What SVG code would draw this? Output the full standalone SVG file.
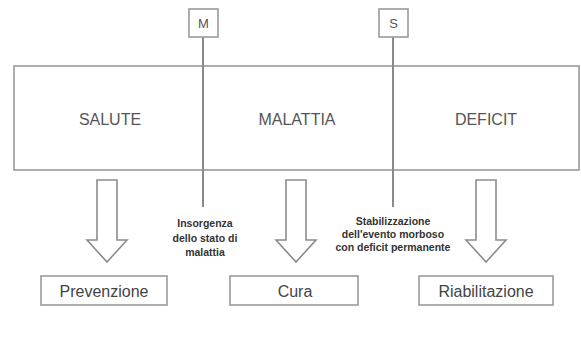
<svg xmlns="http://www.w3.org/2000/svg" width="581" height="359" viewBox="0 0 581 359">
<style>
.box{fill:#fff;stroke:#9a9a9a;stroke-width:1.6}
.arrow{fill:#fff;stroke:#8c8c8c;stroke-width:1.6;stroke-linejoin:miter}
.line{stroke:#8a8a8a;stroke-width:2;fill:none}
.big{font-family:"Liberation Sans",Arial,sans-serif;font-size:16px;fill:#555;text-anchor:middle}
.lbl{font-family:"Liberation Sans",Arial,sans-serif;font-size:16px;fill:#444;text-anchor:middle}
.tag{font-family:"Liberation Sans",Arial,sans-serif;font-size:13px;fill:#555;text-anchor:middle}
.note{font-family:"Liberation Sans",Arial,sans-serif;font-size:10.5px;font-weight:bold;fill:#333;text-anchor:middle}
</style>
<rect width="581" height="359" fill="#fff"/>
<g id="stages">
<rect class="box" x="14" y="66" width="565" height="104"/>
<text class="big" x="110" y="125">SALUTE</text>
<text class="big" x="297" y="125">MALATTIA</text>
<text class="big" x="486" y="125">DEFICIT</text>
</g>
<g id="connectors">
<line class="line" x1="203" y1="37" x2="203" y2="207"/>
<line class="line" x1="393" y1="37" x2="393" y2="207"/>
<path class="arrow" d="M97,180 H117 V240 H127 L107,262 L87,240 H97 Z"/>
<path class="arrow" d="M286,180 H306 V240 H316 L296,262 L276,240 H286 Z"/>
<path class="arrow" d="M476,180 H496 V240 H506 L486,262 L466,240 H476 Z"/>
</g>
<g id="M">
<rect class="box" x="189" y="9" width="29" height="28"/>
<text class="tag" x="203.5" y="28">M</text>
</g>
<g id="S">
<rect class="box" x="379" y="9" width="29" height="28"/>
<text class="tag" x="393.5" y="28">S</text>
</g>
<g id="note-m">
<text class="note" x="205" y="227">Insorgenza</text>
<text class="note" x="205" y="241.5">dello stato di</text>
<text class="note" x="205" y="256">malattia</text>
</g>
<g id="note-s">
<text class="note" x="393" y="225">Stabilizzazione</text>
<text class="note" x="393" y="238">dell'evento morboso</text>
<text class="note" x="393" y="251">con deficit permanente</text>
</g>
<g id="prevenzione">
<rect class="box" x="41" y="276" width="126" height="29"/>
<text class="lbl" x="104" y="297">Prevenzione</text>
</g>
<g id="cura">
<rect class="box" x="230" y="276" width="128" height="29"/>
<text class="lbl" x="295" y="297">Cura</text>
</g>
<g id="riabilitazione">
<rect class="box" x="419" y="276" width="134" height="29"/>
<text class="lbl" x="486" y="297">Riabilitazione</text>
</g>
</svg>
